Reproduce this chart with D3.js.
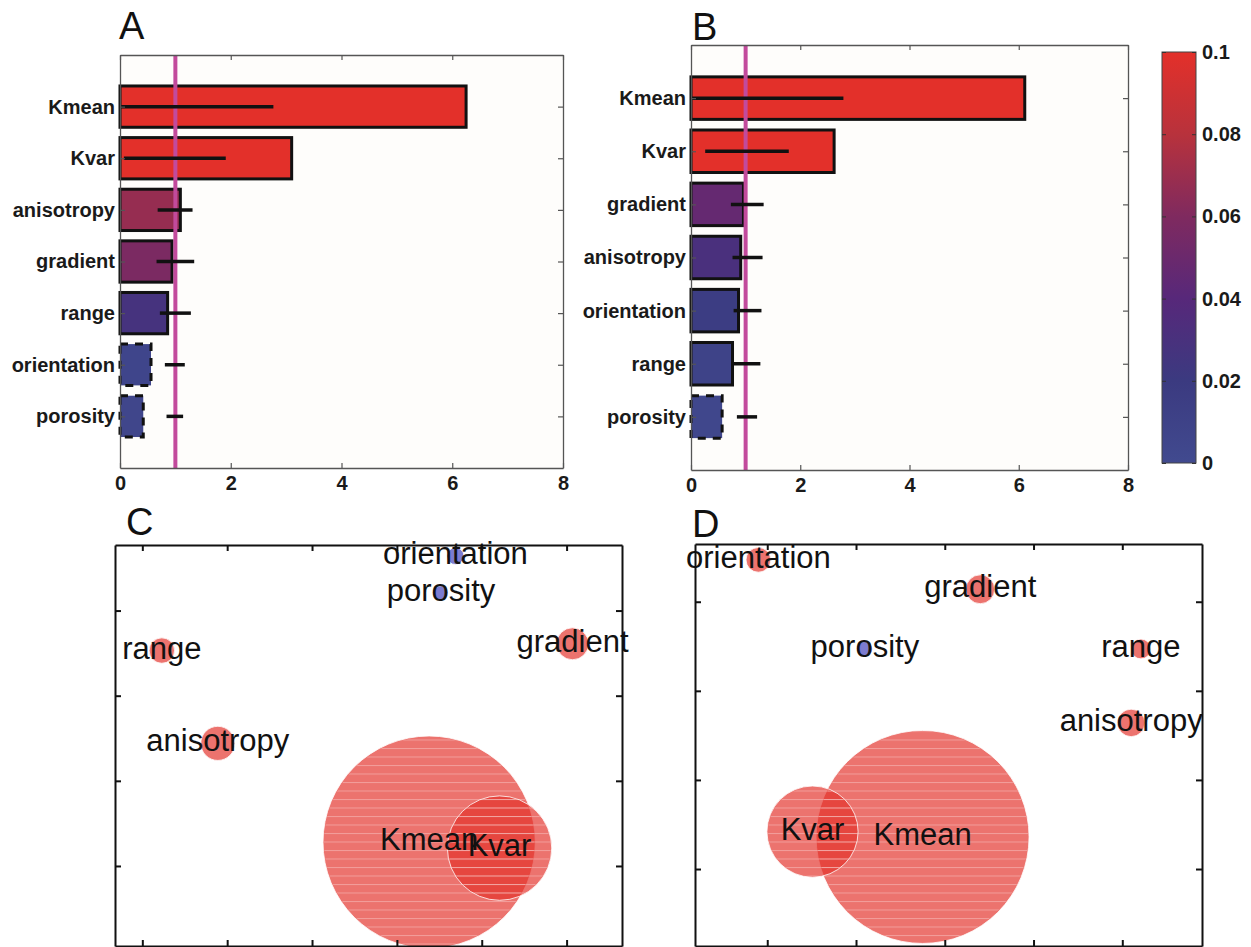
<!DOCTYPE html>
<html>
<head>
<meta charset="utf-8">
<script src="https://cdn.jsdelivr.net/npm/d3@7"></script>
<style>
  body { margin: 0; background: #fff; }
  svg { display: block; font-family: "Liberation Sans", Arial, sans-serif; }
</style>
</head>
<body>
<svg id="fig" width="1251" height="947"></svg>
<script>
// ---- data: panel A (bars + bubbles C share the same variables)
const catsA = ['Kmean', 'Kvar', 'anisotropy', 'gradient', 'range', 'orientation', 'porosity'];
const valsA = [6.25, 3.10, 1.09, 0.94, 0.86, 0.56, 0.42];
const errLoA = [0, 0.07, 0.68, 0.66, 0.72, 0.81, 0.84];
const errHiA = [2.77, 1.91, 1.31, 1.34, 1.28, 1.17, 1.14];
const colA = [0.1, 0.1, 0.068, 0.058, 0.028, 0.006, 0.005];
const sigA = [true, true, true, true, true, false, false];

// ---- data: panel B (bars + bubbles D)
const catsB = ['Kmean', 'Kvar', 'gradient', 'anisotropy', 'orientation', 'range', 'porosity'];
const valsB = [6.11, 2.62, 0.96, 0.91, 0.87, 0.76, 0.57];
const errLoB = [0, 0.26, 0.73, 0.76, 0.78, 0.76, 0.84];
const errHiB = [2.79, 1.79, 1.33, 1.31, 1.29, 1.27, 1.21];
const colB = [0.1, 0.1, 0.047, 0.031, 0.016, 0.009, 0.004];
const sigB = [true, true, true, true, true, true, false];

// ---- bubble maps (C uses catsA order, D uses catsB order)
const cxC = [3.38, 4.21, 0.89, 5.07, 0.23, 3.69, 3.52];
const cyC = [0.28, 0.21, 1.44, 2.61, 2.53, 3.64, 3.21];
const sizeC = [6.1, 3.0, 0.98, 0.92, 0.73, 0.49, 0.40];

const cxD = [2.75, 1.51, 3.40, 5.10, 0.90, 5.21, 2.10];
const cyD = [1.36, 1.42, 4.14, 2.64, 4.47, 3.47, 3.47];
const sizeD = [6.12, 2.62, 0.83, 0.79, 0.71, 0.57, 0.43];

const xTicksBar = [0, 2, 4, 6, 8];
const cbTicks = [0, 0.02, 0.04, 0.06, 0.08, 0.1];
const threshold = 1;

// colormap used for bar colours and the colorbar
const cmapDomain = [0, 0.02, 0.04, 0.06, 0.08, 0.1];
const cmapRange = ['#414a8f', '#3b3a80', '#57287a', '#7f2a5f', '#b8323c', '#e3302a'];
const cmap = d3.scaleLinear().domain(cmapDomain).range(cmapRange).interpolate(d3.interpolateRgb);

const svg = d3.select('#fig');
const defs = svg.append('defs');
const FONT_B = 20;

// faint white scan lines seen inside the bubbles
const stripes = defs.append('pattern')
  .attr('id', 'stripes').attr('patternUnits', 'userSpaceOnUse')
  .attr('width', 12).attr('height', 8.5);
stripes.append('rect').attr('width', 12).attr('height', 1).attr('fill', '#fff').attr('fill-opacity', 0.3);

function panelLetter(txt, x, y) {
  svg.append('text').text(txt)
    .attr('x', x).attr('y', y)
    .attr('font-size', 38)
    .attr('fill', '#111');
}

// ------------------- bar panels --------------------
function drawBars(box, cats, vals, lo, hi, col, sig) {
  const g = svg.append('g');
  const x = d3.scaleLinear().domain([0, 8]).range([box.left, box.right]);
  const y = d3.scaleLinear().domain([0, 8]).range([box.top, box.bottom]);
  const rows = cats.map((c, i) => ({ c, v: vals[i], lo: lo[i], hi: hi[i], col: col[i], sig: sig[i], pos: i + 1 }));

  g.append('rect')
    .attr('x', box.left).attr('y', box.top)
    .attr('width', box.right - box.left).attr('height', box.bottom - box.top)
    .attr('fill', '#fefdfb');

  // bars
  g.selectAll('rect.bar').data(rows).join('rect')
    .attr('class', 'bar')
    .attr('x', x(0))
    .attr('y', d => y(d.pos - 0.4))
    .attr('width', d => x(d.v) - x(0))
    .attr('height', d => y(d.pos + 0.4) - y(d.pos - 0.4))
    .attr('fill', d => cmap(d.col))
    .attr('stroke', '#111')
    .attr('stroke-width', 3)
    .attr('stroke-dasharray', d => d.sig ? null : '8,7');

  // threshold line
  g.append('line')
    .attr('x1', x(threshold)).attr('x2', x(threshold))
    .attr('y1', box.top).attr('y2', box.bottom)
    .attr('stroke', '#c24a9c').attr('stroke-width', 4);

  // error bars
  g.selectAll('line.err').data(rows).join('line')
    .attr('class', 'err')
    .attr('x1', d => x(d.lo)).attr('x2', d => x(d.hi))
    .attr('y1', d => y(d.pos)).attr('y2', d => y(d.pos))
    .attr('stroke', '#111').attr('stroke-width', 3.5);

  // axes
  const bottom = g.append('g')
    .attr('transform', `translate(0,${box.bottom})`)
    .call(d3.axisBottom(x).tickValues(xTicksBar).tickSizeInner(-5).tickSizeOuter(0).tickPadding(8));
  const top = g.append('g')
    .attr('transform', `translate(0,${box.top})`)
    .call(d3.axisTop(x).tickValues(xTicksBar).tickSizeInner(-5).tickSizeOuter(0).tickFormat(''));
  const left = g.append('g')
    .attr('transform', `translate(${box.left},0)`)
    .call(d3.axisLeft(y).tickValues(d3.range(1, 8)).tickSizeInner(-5).tickSizeOuter(0)
      .tickPadding(5).tickFormat(d => cats[d - 1]));
  const right = g.append('g')
    .attr('transform', `translate(${box.right},0)`)
    .call(d3.axisRight(y).tickValues(d3.range(1, 8)).tickSizeInner(-5).tickSizeOuter(0).tickFormat(''));

  [bottom, top, left, right].forEach(a => {
    a.select('.domain').attr('stroke', '#555').attr('stroke-width', 1.3);
    a.selectAll('.tick line').attr('stroke', '#555').attr('stroke-width', 1.2);
    a.selectAll('text').attr('font-size', FONT_B).attr('font-weight', 'bold')
      .attr('fill', '#1a1a1a').attr('font-family', '"Liberation Sans", Arial, sans-serif');
  });
}

drawBars({ left: 120, right: 563, top: 55, bottom: 468 }, catsA, valsA, errLoA, errHiA, colA, sigA);
drawBars({ left: 691, right: 1128, top: 45, bottom: 470 }, catsB, valsB, errLoB, errHiB, colB, sigB);
panelLetter('A', 119, 39);
panelLetter('B', 692, 40);

// ------------------- colorbar --------------------
const cb = { left: 1162, right: 1196, top: 52, bottom: 463 };
const cbScale = d3.scaleLinear().domain([0, 0.1]).range([cb.bottom, cb.top]);
const grad = defs.append('linearGradient')
  .attr('id', 'cbgrad').attr('x1', 0).attr('x2', 0).attr('y1', 1).attr('y2', 0);
grad.selectAll('stop').data(cmapDomain).join('stop')
  .attr('offset', d => d / 0.1)
  .attr('stop-color', d => cmap(d));
svg.append('rect')
  .attr('x', cb.left).attr('y', cb.top)
  .attr('width', cb.right - cb.left).attr('height', cb.bottom - cb.top)
  .attr('fill', 'url(#cbgrad)')
  .attr('stroke', '#444').attr('stroke-width', 1);
const cbAxis = svg.append('g')
  .attr('transform', `translate(${cb.right},0)`)
  .call(d3.axisRight(cbScale).tickValues(cbTicks).tickSizeInner(-4).tickSizeOuter(0)
    .tickPadding(6).tickFormat(d3.format('~g')));
cbAxis.select('.domain').remove();
cbAxis.selectAll('.tick line').attr('stroke', '#333');
cbAxis.selectAll('text').attr('font-size', FONT_B).attr('font-weight', 'bold').attr('fill', '#1a1a1a')
  .attr('font-family', '"Liberation Sans", Arial, sans-serif');
svg.append('g')
  .attr('transform', `translate(${cb.left},0)`)
  .call(d3.axisLeft(cbScale).tickValues(cbTicks).tickSizeInner(-4).tickSizeOuter(0).tickFormat(''))
  .call(a => a.select('.domain').remove())
  .call(a => a.selectAll('.tick line').attr('stroke', '#333'));

// ------------------- bubble panels --------------------
function drawBubbles(box, xDom, yDom, xt, yt, cats, cx, cy, size, sig) {
  const g = svg.append('g');
  const x = d3.scaleLinear().domain(xDom).range([box.left, box.right]);
  const y = d3.scaleLinear().domain(yDom).range([box.bottom, box.top]);
  const r = d3.scaleLinear().domain([0, 1]).range([0, 17.4]);
  const pts = cats.map((c, i) => ({ c, x: cx[i], y: cy[i], s: size[i], sig: sig[i] }))
    .sort((a, b) => b.s - a.s);

  g.selectAll('circle.bub').data(pts).join('circle')
    .attr('class', 'bub')
    .attr('cx', d => x(d.x)).attr('cy', d => y(d.y))
    .attr('r', d => r(d.s))
    .attr('fill', d => d.sig ? '#e3302a' : '#5050c0')
    .attr('fill-opacity', d => d.sig ? 0.68 : 0.75)
    .attr('stroke', '#fff').attr('stroke-width', 1).attr('stroke-opacity', 0.8);

  g.selectAll('circle.scan').data(pts.filter(d => d.s > 2)).join('circle')
    .attr('class', 'scan')
    .attr('cx', d => x(d.x)).attr('cy', d => y(d.y))
    .attr('r', d => r(d.s) - 1)
    .attr('fill', 'url(#stripes)');

  g.selectAll('text').data(pts).join('text')
    .attr('x', d => x(d.x)).attr('y', d => y(d.y) + 8)
    .attr('text-anchor', 'middle')
    .attr('font-size', 31)
    .attr('fill', '#111')
    .text(d => d.c);

  const axes = [
    g.append('g').attr('transform', `translate(0,${box.bottom})`)
      .call(d3.axisBottom(x).tickValues(xt).tickSizeInner(-6).tickSizeOuter(0).tickFormat('')),
    g.append('g').attr('transform', `translate(0,${box.top})`)
      .call(d3.axisTop(x).tickValues(xt).tickSizeInner(-6).tickSizeOuter(0).tickFormat('')),
    g.append('g').attr('transform', `translate(${box.left},0)`)
      .call(d3.axisLeft(y).tickValues(yt).tickSizeInner(-6).tickSizeOuter(0).tickFormat('')),
    g.append('g').attr('transform', `translate(${box.right},0)`)
      .call(d3.axisRight(y).tickValues(yt).tickSizeInner(-6).tickSizeOuter(0).tickFormat(''))
  ];
  axes.forEach(a => {
    a.select('.domain').attr('stroke', '#111').attr('stroke-width', 2);
    a.selectAll('.tick line').attr('stroke', '#111').attr('stroke-width', 2);
  });
}

drawBubbles({ left: 115, right: 622, top: 545, bottom: 946 }, [-0.322, 5.653], [-0.94, 3.77],
  [0, 1, 2, 3, 4, 5], [0, 1, 2, 3], catsA, cxC, cyC, sizeC, sigA);
drawBubbles({ left: 695, right: 1202, top: 544, bottom: 946 }, [0.186, 5.898], [0.136, 4.648],
  [1, 2, 3, 4, 5], [1, 2, 3, 4], catsB, cxD, cyD, sizeD, sigB);
panelLetter('C', 126, 535);
panelLetter('D', 692, 537);
</script>
</body>
</html>
